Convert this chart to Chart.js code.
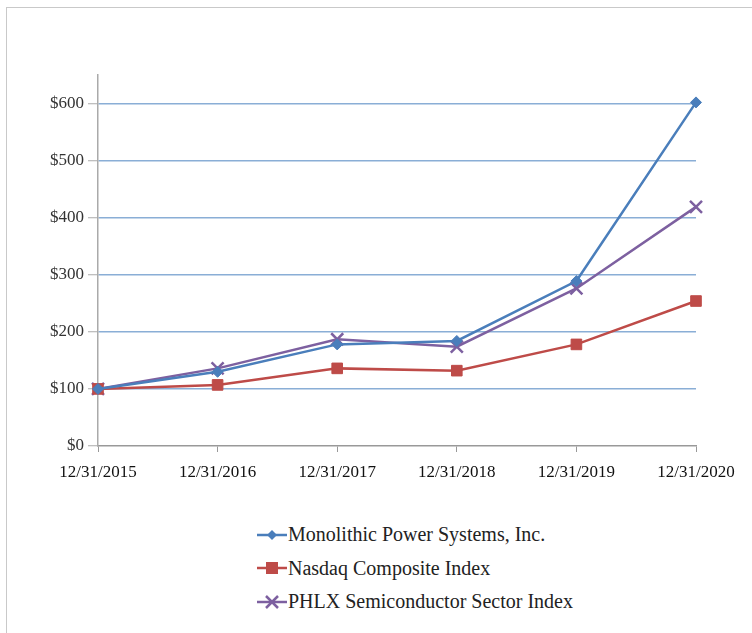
<!DOCTYPE html>
<html>
<head>
<meta charset="utf-8">
<script src="https://cdn.jsdelivr.net/npm/chart.js@4/dist/chart.umd.min.js"></script>
<style>
  body { margin: 0; background: #fff; width: 752px; height: 633px; overflow: hidden; position: relative; }
  #frame { position: absolute; left: 6px; top: 7px; width: 760px; height: 700px; border: 1px solid #c9c9c9; }
  #wrap { position: absolute; left: 0; top: 0; width: 752px; height: 500px; }
  #legend { position: absolute; left: 257px; top: 518px; font-family: "Liberation Serif", "DejaVu Serif", serif; font-size: 20px; color: #222; }
  .item { display: flex; align-items: center; height: 33.5px; }
  .item svg { margin-right: 1px; }
</style>
</head>
<body>
<div id="frame"></div>
<div id="wrap"><canvas id="chart"></canvas></div>
<div id="legend"></div>
<script>
// ---------------------------------------------------------
// Data
// ---------------------------------------------------------
const years = ['12/31/2015', '12/31/2016', '12/31/2017', '12/31/2018', '12/31/2019', '12/31/2020'];
const mpwr = [100, 130, 178, 184, 289, 602];
const nasdaq = [100, 107, 136, 132, 178, 254];
const phlx = [100, 136, 187, 174, 276, 419];
const yTicks = [0, 100, 200, 300, 400, 500, 600];

const series = [
  { label: 'Monolithic Power Systems, Inc.', data: mpwr, color: '#4a7ebb', style: 'rectRot', radius: 5.5 },
  { label: 'Nasdaq Composite Index', data: nasdaq, color: '#be4b48', style: 'rect', radius: 7.5 },
  { label: 'PHLX Semiconductor Sector Index', data: phlx, color: '#7d60a0', style: 'crossRot', radius: 8.5 }
];

const tickFont = { family: 'Liberation Serif', size: 17 };

const chart = new Chart(document.getElementById('chart'), {
  type: 'line',
  data: {
    labels: years,
    datasets: series.map(s => ({
      label: s.label,
      data: s.data,
      borderColor: s.color,
      backgroundColor: s.color,
      borderWidth: 2.5,
      pointStyle: s.style,
      pointRadius: s.radius,
      pointBorderWidth: s.style === 'crossRot' ? 2.5 : 1,
      tension: 0
    }))
  },
  options: {
    responsive: true,
    maintainAspectRatio: false,
    animation: false,
    layout: { padding: { left: 0, right: 56, top: 75, bottom: 10 } },
    plugins: { legend: { display: false }, tooltip: { enabled: false } },
    scales: {
      x: {
        offset: false,
        grid: { drawOnChartArea: false, tickLength: 6, tickColor: '#999', tickWidth: 1 },
        border: { color: '#999', width: 1.5 },
        ticks: { font: tickFont, color: '#111', padding: 10, maxRotation: 0 },
        afterFit: (scale) => { scale.height = 44; }
      },
      y: {
        min: 0,
        max: 650,
        grid: {
          color: (ctx) => (ctx.tick && ctx.tick.value === 0 ? 'rgba(0,0,0,0)' : '#8aaed6'),
          lineWidth: 1.5,
          tickLength: 10,
          tickColor: '#aaa',
          tickWidth: 1
        },
        border: { color: '#aaa', width: 1.5 },
        ticks: {
          font: tickFont,
          color: '#333',
          padding: 4,
          callback: (v) => '$' + v
        },
        afterBuildTicks: (scale) => { scale.ticks = yTicks.map(v => ({ value: v })); },
        afterFit: (scale) => { scale.width = 98; }
      }
    }
  }
});

// ---------------------------------------------------------
// Vertical legend below the chart
// ---------------------------------------------------------
function markerSvg(s) {
  let m = '';
  if (s.style === 'rectRot') {
    m = `<polygon points="15,5 20,10 15,15 10,10" fill="${s.color}"/>`;
  } else if (s.style === 'rect') {
    m = `<rect x="9" y="4" width="12" height="12" fill="${s.color}"/>`;
  } else {
    m = `<path d="M9,4 L21,16 M21,4 L9,16" stroke="${s.color}" stroke-width="2.5"/>`;
  }
  return `<svg width="30" height="20"><line x1="0" y1="10" x2="30" y2="10" stroke="${s.color}" stroke-width="2.5"/>${m}</svg>`;
}

const legendEl = document.getElementById('legend');
series.forEach(s => {
  const row = document.createElement('div');
  row.className = 'item';
  row.innerHTML = markerSvg(s) + '<span></span>';
  row.querySelector('span').textContent = s.label;
  legendEl.appendChild(row);
});
</script>
</body>
</html>
